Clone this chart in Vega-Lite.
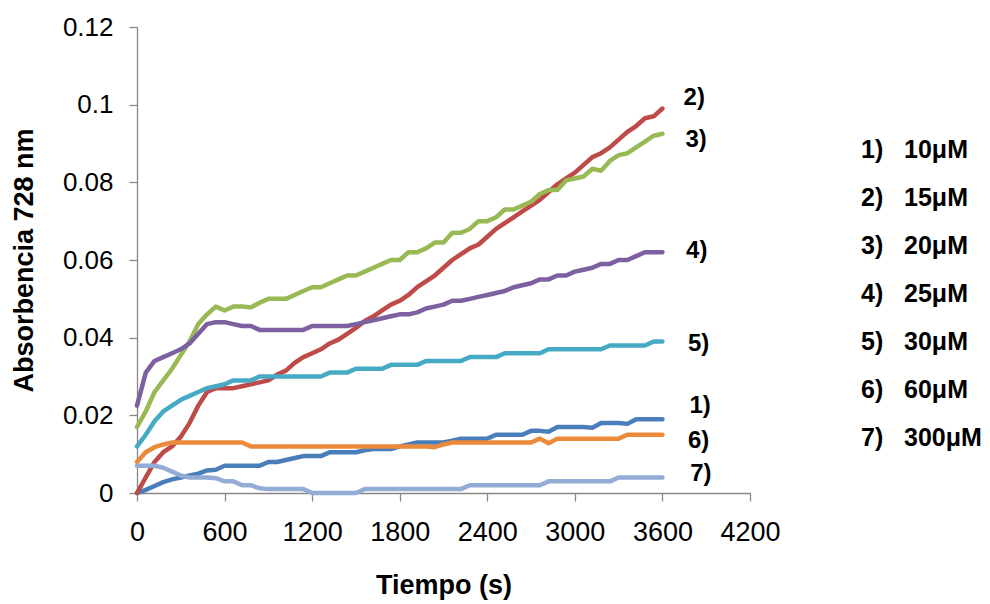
{
  "$schema": "https://vega.github.io/schema/vega-lite/v6.json",
  "autosize": {"type": "none"},
  "padding": {"left": 137, "top": 27, "right": 240, "bottom": 111},
  "width": 613,
  "height": 466,
  "background": "white",
  "config": {
    "view": {"stroke": null},
    "font": "Liberation Sans",
    "axis": {
      "grid": false,
      "domainColor": "#878787",
      "tickColor": "#878787",
      "domainWidth": 1.3,
      "tickWidth": 1.3,
      "labelColor": "#000000",
      "labelFont": "Liberation Sans",
      "labelFontSize": 26,
      "titleFont": "Liberation Sans",
      "titleFontSize": 27,
      "titleFontWeight": "bold",
      "titleColor": "#000000"
    }
  },
  "datasets": {
    "curvas": [
      {"t": 0, "s1": 0, "s2": 0, "s3": 0.017, "s4": 0.0225, "s5": 0.012, "s6": 0.008, "s7": 0.007},
      {"t": 60, "s1": 0.0008, "s2": 0.004, "s3": 0.021, "s4": 0.031, "s5": 0.015, "s6": 0.0105, "s7": 0.007},
      {"t": 120, "s1": 0.0018, "s2": 0.008, "s3": 0.026, "s4": 0.034, "s5": 0.0185, "s6": 0.0118, "s7": 0.007},
      {"t": 180, "s1": 0.0028, "s2": 0.0105, "s3": 0.029, "s4": 0.035, "s5": 0.021, "s6": 0.0125, "s7": 0.0065},
      {"t": 240, "s1": 0.0035, "s2": 0.012, "s3": 0.032, "s4": 0.036, "s5": 0.0225, "s6": 0.013, "s7": 0.0055},
      {"t": 300, "s1": 0.004, "s2": 0.0145, "s3": 0.0355, "s4": 0.037, "s5": 0.024, "s6": 0.013, "s7": 0.0045},
      {"t": 360, "s1": 0.0045, "s2": 0.018, "s3": 0.039, "s4": 0.0385, "s5": 0.025, "s6": 0.013, "s7": 0.004},
      {"t": 420, "s1": 0.005, "s2": 0.0225, "s3": 0.0435, "s4": 0.041, "s5": 0.026, "s6": 0.013, "s7": 0.004},
      {"t": 480, "s1": 0.0058, "s2": 0.026, "s3": 0.046, "s4": 0.0435, "s5": 0.027, "s6": 0.013, "s7": 0.004},
      {"t": 540, "s1": 0.006, "s2": 0.027, "s3": 0.048, "s4": 0.044, "s5": 0.0275, "s6": 0.013, "s7": 0.0038},
      {"t": 600, "s1": 0.007, "s2": 0.027, "s3": 0.047, "s4": 0.044, "s5": 0.028, "s6": 0.013, "s7": 0.003},
      {"t": 660, "s1": 0.007, "s2": 0.027, "s3": 0.048, "s4": 0.0435, "s5": 0.029, "s6": 0.013, "s7": 0.003},
      {"t": 720, "s1": 0.007, "s2": 0.0275, "s3": 0.048, "s4": 0.043, "s5": 0.029, "s6": 0.013, "s7": 0.002},
      {"t": 780, "s1": 0.007, "s2": 0.028, "s3": 0.0478, "s4": 0.043, "s5": 0.029, "s6": 0.012, "s7": 0.002},
      {"t": 840, "s1": 0.007, "s2": 0.0285, "s3": 0.049, "s4": 0.042, "s5": 0.03, "s6": 0.012, "s7": 0.0012},
      {"t": 900, "s1": 0.008, "s2": 0.029, "s3": 0.05, "s4": 0.042, "s5": 0.03, "s6": 0.012, "s7": 0.001},
      {"t": 960, "s1": 0.008, "s2": 0.0305, "s3": 0.05, "s4": 0.042, "s5": 0.03, "s6": 0.012, "s7": 0.001},
      {"t": 1020, "s1": 0.0085, "s2": 0.0315, "s3": 0.05, "s4": 0.042, "s5": 0.03, "s6": 0.012, "s7": 0.001},
      {"t": 1080, "s1": 0.009, "s2": 0.0335, "s3": 0.051, "s4": 0.042, "s5": 0.03, "s6": 0.012, "s7": 0.001},
      {"t": 1140, "s1": 0.0095, "s2": 0.035, "s3": 0.052, "s4": 0.042, "s5": 0.03, "s6": 0.012, "s7": 0.001},
      {"t": 1200, "s1": 0.0095, "s2": 0.036, "s3": 0.053, "s4": 0.043, "s5": 0.03, "s6": 0.012, "s7": 0},
      {"t": 1260, "s1": 0.0095, "s2": 0.037, "s3": 0.053, "s4": 0.043, "s5": 0.03, "s6": 0.012, "s7": 0},
      {"t": 1320, "s1": 0.0105, "s2": 0.0385, "s3": 0.054, "s4": 0.043, "s5": 0.031, "s6": 0.012, "s7": 0},
      {"t": 1380, "s1": 0.0105, "s2": 0.0395, "s3": 0.055, "s4": 0.043, "s5": 0.031, "s6": 0.012, "s7": 0},
      {"t": 1440, "s1": 0.0105, "s2": 0.041, "s3": 0.056, "s4": 0.043, "s5": 0.031, "s6": 0.012, "s7": 0},
      {"t": 1500, "s1": 0.0105, "s2": 0.0425, "s3": 0.056, "s4": 0.0435, "s5": 0.032, "s6": 0.012, "s7": 0},
      {"t": 1560, "s1": 0.011, "s2": 0.0443, "s3": 0.057, "s4": 0.044, "s5": 0.032, "s6": 0.012, "s7": 0.001},
      {"t": 1620, "s1": 0.0113, "s2": 0.0455, "s3": 0.058, "s4": 0.0445, "s5": 0.032, "s6": 0.012, "s7": 0.001},
      {"t": 1680, "s1": 0.0113, "s2": 0.047, "s3": 0.059, "s4": 0.045, "s5": 0.032, "s6": 0.012, "s7": 0.001},
      {"t": 1740, "s1": 0.0113, "s2": 0.0485, "s3": 0.06, "s4": 0.0455, "s5": 0.033, "s6": 0.012, "s7": 0.001},
      {"t": 1800, "s1": 0.012, "s2": 0.0495, "s3": 0.06, "s4": 0.046, "s5": 0.033, "s6": 0.012, "s7": 0.001},
      {"t": 1860, "s1": 0.0125, "s2": 0.051, "s3": 0.062, "s4": 0.046, "s5": 0.033, "s6": 0.012, "s7": 0.001},
      {"t": 1920, "s1": 0.013, "s2": 0.053, "s3": 0.062, "s4": 0.0465, "s5": 0.033, "s6": 0.012, "s7": 0.001},
      {"t": 1980, "s1": 0.013, "s2": 0.0545, "s3": 0.063, "s4": 0.0475, "s5": 0.034, "s6": 0.012, "s7": 0.001},
      {"t": 2040, "s1": 0.013, "s2": 0.056, "s3": 0.0645, "s4": 0.048, "s5": 0.034, "s6": 0.0118, "s7": 0.001},
      {"t": 2100, "s1": 0.013, "s2": 0.058, "s3": 0.0645, "s4": 0.0485, "s5": 0.034, "s6": 0.0125, "s7": 0.001},
      {"t": 2160, "s1": 0.0135, "s2": 0.06, "s3": 0.067, "s4": 0.0495, "s5": 0.034, "s6": 0.013, "s7": 0.001},
      {"t": 2220, "s1": 0.014, "s2": 0.0615, "s3": 0.067, "s4": 0.0495, "s5": 0.034, "s6": 0.013, "s7": 0.001},
      {"t": 2280, "s1": 0.014, "s2": 0.063, "s3": 0.068, "s4": 0.05, "s5": 0.035, "s6": 0.013, "s7": 0.002},
      {"t": 2340, "s1": 0.014, "s2": 0.064, "s3": 0.07, "s4": 0.0505, "s5": 0.035, "s6": 0.013, "s7": 0.002},
      {"t": 2400, "s1": 0.014, "s2": 0.066, "s3": 0.07, "s4": 0.051, "s5": 0.035, "s6": 0.013, "s7": 0.002},
      {"t": 2460, "s1": 0.015, "s2": 0.068, "s3": 0.071, "s4": 0.0515, "s5": 0.035, "s6": 0.013, "s7": 0.002},
      {"t": 2520, "s1": 0.015, "s2": 0.0695, "s3": 0.073, "s4": 0.052, "s5": 0.036, "s6": 0.013, "s7": 0.002},
      {"t": 2580, "s1": 0.015, "s2": 0.071, "s3": 0.073, "s4": 0.053, "s5": 0.036, "s6": 0.013, "s7": 0.002},
      {"t": 2640, "s1": 0.015, "s2": 0.0725, "s3": 0.074, "s4": 0.0535, "s5": 0.036, "s6": 0.013, "s7": 0.002},
      {"t": 2700, "s1": 0.016, "s2": 0.074, "s3": 0.075, "s4": 0.054, "s5": 0.036, "s6": 0.013, "s7": 0.002},
      {"t": 2760, "s1": 0.016, "s2": 0.0755, "s3": 0.077, "s4": 0.055, "s5": 0.036, "s6": 0.014, "s7": 0.002},
      {"t": 2820, "s1": 0.0158, "s2": 0.0775, "s3": 0.078, "s4": 0.055, "s5": 0.037, "s6": 0.0128, "s7": 0.003},
      {"t": 2880, "s1": 0.017, "s2": 0.0795, "s3": 0.078, "s4": 0.056, "s5": 0.037, "s6": 0.014, "s7": 0.003},
      {"t": 2940, "s1": 0.017, "s2": 0.081, "s3": 0.0805, "s4": 0.056, "s5": 0.037, "s6": 0.014, "s7": 0.003},
      {"t": 3000, "s1": 0.017, "s2": 0.0825, "s3": 0.081, "s4": 0.057, "s5": 0.037, "s6": 0.014, "s7": 0.003},
      {"t": 3060, "s1": 0.017, "s2": 0.0845, "s3": 0.0815, "s4": 0.0575, "s5": 0.037, "s6": 0.014, "s7": 0.003},
      {"t": 3120, "s1": 0.0168, "s2": 0.0865, "s3": 0.0835, "s4": 0.058, "s5": 0.037, "s6": 0.014, "s7": 0.003},
      {"t": 3180, "s1": 0.018, "s2": 0.0875, "s3": 0.083, "s4": 0.059, "s5": 0.037, "s6": 0.014, "s7": 0.003},
      {"t": 3240, "s1": 0.018, "s2": 0.089, "s3": 0.0855, "s4": 0.059, "s5": 0.038, "s6": 0.014, "s7": 0.003},
      {"t": 3300, "s1": 0.018, "s2": 0.091, "s3": 0.087, "s4": 0.06, "s5": 0.038, "s6": 0.014, "s7": 0.004},
      {"t": 3360, "s1": 0.0178, "s2": 0.093, "s3": 0.0875, "s4": 0.06, "s5": 0.038, "s6": 0.015, "s7": 0.004},
      {"t": 3420, "s1": 0.019, "s2": 0.0945, "s3": 0.089, "s4": 0.061, "s5": 0.038, "s6": 0.015, "s7": 0.004},
      {"t": 3480, "s1": 0.019, "s2": 0.0965, "s3": 0.0905, "s4": 0.062, "s5": 0.038, "s6": 0.015, "s7": 0.004},
      {"t": 3540, "s1": 0.019, "s2": 0.097, "s3": 0.092, "s4": 0.062, "s5": 0.039, "s6": 0.015, "s7": 0.004},
      {"t": 3600, "s1": 0.019, "s2": 0.099, "s3": 0.0925, "s4": 0.062, "s5": 0.039, "s6": 0.015, "s7": 0.004}
    ],
    "etiquetas": [
      {"etiqueta": "2)", "t": 3745, "v": 0.1018},
      {"etiqueta": "3)", "t": 3758, "v": 0.0909},
      {"etiqueta": "4)", "t": 3762, "v": 0.0623},
      {"etiqueta": "5)", "t": 3775, "v": 0.0383},
      {"etiqueta": "1)", "t": 3785, "v": 0.0224},
      {"etiqueta": "6)", "t": 3775, "v": 0.0135},
      {"etiqueta": "7)", "t": 3790, "v": 0.0048}
    ]
  },
  "layer": [
    {
      "data": {"name": "curvas"},
      "transform": [
        {"fold": ["s1", "s2", "s3", "s4", "s5", "s6", "s7"], "as": ["serie", "v"]}
      ],
      "mark": {"type": "line", "strokeWidth": 4.5, "strokeCap": "round", "strokeJoin": "round"},
      "encoding": {
        "x": {
          "field": "t",
          "type": "quantitative",
          "title": "Tiempo (s)",
          "scale": {"domain": [0, 4200], "nice": false, "zero": true},
          "axis": {
            "values": [0, 600, 1200, 1800, 2400, 3000, 3600, 4200],
            "format": "d",
            "labelFontSize": 27,
            "tickSize": 8,
            "labelPadding": 18,
            "titlePadding": 27,
            "labelFlush": false
          }
        },
        "y": {
          "field": "v",
          "type": "quantitative",
          "title": "Absorbencia 728 nm",
          "scale": {"domain": [0, 0.12], "nice": false},
          "axis": {
            "values": [0, 0.02, 0.04, 0.06, 0.08, 0.1, 0.12],
            "format": "~g",
            "tickSize": 8,
            "labelPadding": 16,
            "titlePadding": 24,
            "labelFlush": false
          }
        },
        "color": {
          "field": "serie",
          "type": "nominal",
          "scale": {
            "domain": ["s1", "s2", "s3", "s4", "s5", "s6", "s7"],
            "range": ["#4A7EBB", "#BE4B48", "#98B954", "#7D60A0", "#46AAC5", "#EC8A3C", "#93ACD6"]
          },
          "legend": {
            "orient": "none",
            "legendX": 699,
            "legendY": 110,
            "title": null,
            "padding": 0,
            "symbolSize": 0,
            "symbolOpacity": 0,
            "symbolStrokeWidth": 0,
            "labelOffset": 0,
            "labelFont": "Liberation Sans",
            "labelFontSize": 25,
            "labelFontWeight": "bold",
            "labelColor": "#000000",
            "labelLimit": 300,
            "rowPadding": 22,
            "labelExpr": "['1)\u00a0\u00a0\u00a010μM', '2)\u00a0\u00a0\u00a015μM', '3)\u00a0\u00a0\u00a020μM', '4)\u00a0\u00a0\u00a025μM', '5)\u00a0\u00a0\u00a030μM', '6)\u00a0\u00a0\u00a060μM', '7)\u00a0\u00a0\u00a0300μM'][indexof(['s1','s2','s3','s4','s5','s6','s7'], datum.value)]"
          }
        }
      }
    },
    {
      "data": {"name": "etiquetas"},
      "mark": {"type": "text", "align": "left", "baseline": "middle", "font": "Liberation Sans", "fontSize": 24, "fontWeight": "bold", "color": "#000000"},
      "encoding": {
        "x": {"field": "t", "type": "quantitative"},
        "y": {"field": "v", "type": "quantitative"},
        "text": {"field": "etiqueta"}
      }
    }
  ]
}
